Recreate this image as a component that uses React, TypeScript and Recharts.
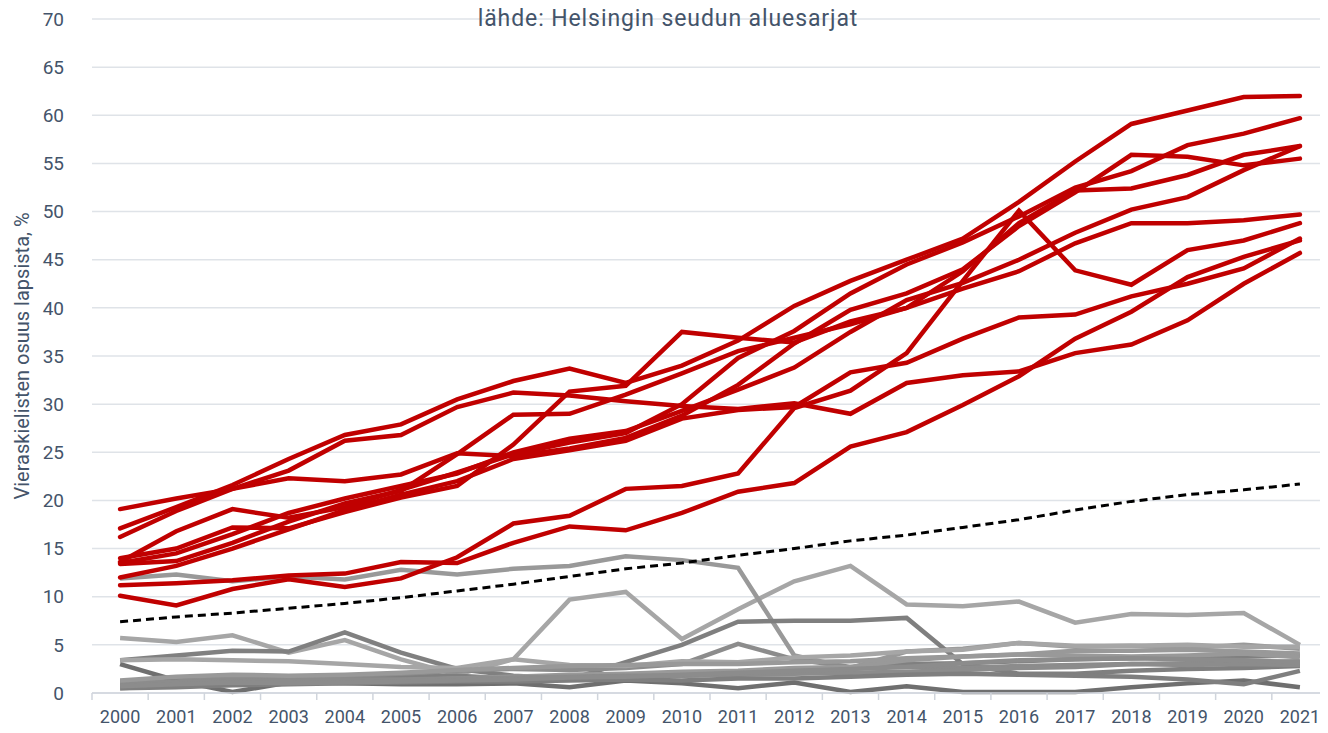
import { CartesianGrid, Line, LineChart, XAxis, YAxis } from "recharts";

const YEARS = [
  "2000", "2001", "2002", "2003", "2004", "2005", "2006", "2007", "2008", "2009", "2010",
  "2011", "2012", "2013", "2014", "2015", "2016", "2017", "2018", "2019", "2020", "2021",
];

const Y_TICKS = [0, 5, 10, 15, 20, 25, 30, 35, 40, 45, 50, 55, 60, 65, 70];

// red lines (higher share areas)
const redA = [19.1, 20.2, 21.2, 22.3, 22.0, 22.7, 24.9, 24.6, 25.4, 26.5, 28.8, 32.0, 36.3, 39.8, 41.5, 44.0, 48.5, 52.0, 55.9, 55.7, 54.8, 55.5];
const redB = [17.1, 19.3, 21.6, 24.3, 26.8, 27.9, 30.5, 32.4, 33.7, 32.2, 34.0, 36.6, 40.2, 42.8, 45.0, 47.2, 51.0, 55.2, 59.1, 60.5, 61.9, 62.0];
const redC = [16.2, 18.9, 21.2, 23.1, 26.2, 26.8, 29.7, 31.2, 30.9, 30.3, 29.8, 29.5, 30.1, 29.0, 32.2, 33.0, 33.4, 35.3, 36.2, 38.7, 42.5, 45.7];
const redD = [14.0, 15.0, 17.2, 17.1, 18.8, 20.3, 21.5, 25.8, 31.3, 31.9, 37.5, 36.9, 36.4, 38.6, 40.0, 43.8, 48.8, 52.2, 52.4, 53.8, 55.9, 56.8];
const redE = [13.6, 16.8, 19.1, 18.2, 19.3, 21.1, 22.9, 24.8, 26.0, 27.0, 30.0, 34.8, 37.6, 41.5, 44.5, 46.8, 49.5, 52.5, 54.2, 56.9, 58.1, 59.7];
const redF = [13.5, 14.5, 16.5, 18.7, 20.2, 21.5, 22.8, 25.0, 26.4, 27.2, 29.3, 31.5, 33.8, 37.5, 40.8, 42.6, 45.0, 47.8, 50.2, 51.5, 54.3, 56.8];
const redG = [13.4, 13.7, 15.6, 17.8, 19.7, 21.0, 24.8, 28.9, 29.0, 31.0, 33.2, 35.5, 36.9, 38.3, 40.0, 42.0, 43.8, 46.7, 48.8, 48.8, 49.1, 49.7];
const redH = [12.0, 13.2, 15.0, 17.0, 19.0, 20.6, 22.0, 24.3, 25.2, 26.2, 28.5, 29.4, 29.7, 33.3, 34.3, 36.8, 39.0, 39.3, 41.2, 42.5, 44.1, 47.2];
const redI = [11.2, 11.4, 11.7, 12.2, 12.4, 13.6, 13.5, 15.6, 17.3, 16.9, 18.7, 20.9, 21.8, 25.6, 27.1, 29.9, 32.9, 36.8, 39.6, 43.2, 45.3, 47.0];
const redJ = [10.1, 9.1, 10.8, 11.8, 11.0, 11.9, 14.1, 17.6, 18.4, 21.2, 21.5, 22.8, 29.6, 31.4, 35.3, 42.8, 50.1, 43.9, 42.4, 46.0, 47.0, 48.8];

// gray lines (lower share areas)
const gray1 = [5.7, 5.3, 6.0, 4.2, 5.5, 3.5, 1.9, 3.5, 9.7, 10.5, 5.6, 8.7, 11.6, 13.2, 9.2, 9.0, 9.5, 7.3, 8.2, 8.1, 8.3, 5.0];
const gray2 = [11.9, 12.3, 11.6, 12.1, 11.8, 12.8, 12.3, 12.9, 13.2, 14.2, 13.8, 13.0, 3.9, 2.6, 4.3, 4.6, 5.2, 4.8, 4.9, 4.7, 5.0, 4.6];
const gray3 = [3.4, 3.9, 4.4, 4.3, 6.3, 4.2, 2.5, 1.8, 1.5, 1.7, 1.8, 2.0, 2.3, 2.6, 3.0, 3.1, 3.3, 3.5, 3.6, 3.7, 3.8, 3.9];
const gray4 = [1.2, 1.5, 1.6, 1.5, 1.6, 1.7, 1.8, 1.5, 1.4, 3.2, 5.0, 7.4, 7.5, 7.5, 7.8, 3.0, 2.0, 2.0, 2.3, 2.5, 2.6, 2.8];
const gray5 = [3.0, 1.3, 0.1, 1.1, 1.0, 0.9, 0.9, 1.0, 0.6, 1.3, 1.0, 0.5, 1.1, 0.1, 0.7, 0.1, 0.1, 0.1, 0.6, 1.0, 1.3, 0.6];
const gray6 = [0.9, 1.2, 1.5, 1.6, 1.8, 2.0, 2.3, 2.5, 2.4, 2.6, 3.0, 5.1, 3.5, 2.7, 2.7, 2.6, 2.8, 2.9, 3.0, 3.1, 3.2, 3.3];
const gray7 = [3.4, 3.5, 3.4, 3.3, 3.0, 2.7, 2.6, 3.5, 2.9, 2.8, 3.3, 3.2, 3.7, 3.9, 4.3, 4.5, 5.2, 4.9, 4.9, 5.0, 4.8, 4.8];
const gray8 = [0.5, 0.8, 1.0, 1.1, 1.2, 1.3, 1.5, 1.7, 1.9, 2.0, 2.2, 2.3, 2.6, 2.7, 3.4, 3.8, 4.0, 4.4, 4.4, 4.5, 4.3, 4.1];
const gray9 = [1.0, 1.1, 1.2, 1.3, 1.4, 1.4, 1.5, 1.6, 1.7, 1.8, 1.8, 1.9, 2.0, 2.1, 2.2, 2.4, 2.6, 2.7, 3.0, 2.9, 3.0, 2.9];
const gray10 = [0.5, 0.6, 0.8, 0.9, 1.0, 1.1, 1.2, 1.2, 1.3, 1.4, 1.3, 1.5, 1.5, 1.7, 1.9, 2.0, 1.9, 1.8, 1.7, 1.4, 0.9, 2.3];
const gray11 = [1.3, 1.7, 1.9, 1.8, 1.9, 2.1, 2.4, 2.6, 2.8, 2.9, 3.0, 3.0, 3.2, 3.3, 3.6, 3.8, 4.0, 3.9, 3.8, 3.9, 4.1, 3.7];
const gray12 = [0.7, 0.9, 1.1, 1.0, 1.1, 1.2, 1.3, 1.4, 1.6, 1.7, 1.9, 2.1, 2.3, 2.5, 2.7, 3.1, 3.4, 3.5, 3.6, 3.5, 3.4, 3.2];

// whole region average (dashed)
const average = [7.4, 7.9, 8.3, 8.8, 9.3, 9.9, 10.6, 11.3, 12.1, 12.9, 13.5, 14.3, 15.0, 15.8, 16.4, 17.2, 18.0, 19.0, 19.9, 20.6, 21.1, 21.7];

const RED_SERIES = [redA, redB, redC, redD, redE, redF, redG, redH, redI, redJ];
const GRAY_SERIES = [
  { values: gray1, color: "#a6a6a6" },
  { values: gray2, color: "#999999" },
  { values: gray3, color: "#808080" },
  { values: gray4, color: "#7f7f7f" },
  { values: gray5, color: "#6f6f6f" },
  { values: gray6, color: "#8c8c8c" },
  { values: gray7, color: "#a6a6a6" },
  { values: gray8, color: "#999999" },
  { values: gray9, color: "#8c8c8c" },
  { values: gray10, color: "#7f7f7f" },
  { values: gray11, color: "#999999" },
  { values: gray12, color: "#8c8c8c" },
];

const chartData = YEARS.map((year, i) => {
  const row: Record<string, any> = { year, avg: average[i] };
  RED_SERIES.forEach((s, k) => (row[`r${k}`] = s[i]));
  GRAY_SERIES.forEach((s, k) => (row[`g${k}`] = s.values[i]));
  return row;
});

const WIDTH = 1320;
const HEIGHT = 722;
const Y_AXIS_WIDTH = 84;
const HALF_BAND = (WIDTH - Y_AXIS_WIDTH) / YEARS.length / 2;
const TEXT = "#44546A";
const FONT = "Roboto, 'Liberation Sans', sans-serif";

function YearTick(props: any) {
  const { x, y, payload, index } = props;
  return (
    <g>
      <line x1={x - HALF_BAND} x2={x - HALF_BAND} y1={y - 8} y2={y - 1} stroke="#d0d5dc" strokeWidth={1.5} />
      {index === YEARS.length - 1 && (
        <line x1={x + HALF_BAND} x2={x + HALF_BAND} y1={y - 8} y2={y - 1} stroke="#d0d5dc" strokeWidth={1.5} />
      )}
      <text x={x} y={y + 22} textAnchor="middle" fill={TEXT} fontSize={18} fontFamily={FONT}>
        {payload.value}
      </text>
    </g>
  );
}

export default function App() {
  return (
    <div style={{ position: "relative", width: WIDTH, height: HEIGHT, fontFamily: FONT }}>
      <LineChart width={WIDTH} height={HEIGHT} data={chartData} margin={{ top: 11, right: 0, left: 0, bottom: 0 }}>
        <CartesianGrid vertical={false} stroke="#dfe3e8" strokeWidth={1.5} />
        <XAxis
          dataKey="year"
          padding={{ left: HALF_BAND, right: HALF_BAND }}
          stroke="#d0d5dc"
          strokeWidth={1.5}
          tickLine={false}
          tick={<YearTick />}
          interval={0}
          height={37}
        />
        <YAxis
          domain={[0, 70]}
          ticks={Y_TICKS}
          width={Y_AXIS_WIDTH}
          axisLine={false}
          tickLine={false}
          tickSize={0}
          tickMargin={28}
          tick={{ fill: TEXT, fontSize: 19, fontFamily: FONT }}
          label={{
            value: "Vieraskielisten osuus lapsista, %",
            angle: -90,
            position: "insideLeft",
            offset: 14,
            style: { fill: TEXT, fontSize: 20, fontFamily: FONT, textAnchor: "middle" },
          }}
        />
        {GRAY_SERIES.map((s, k) => (
          <Line
            key={`g${k}`}
            dataKey={`g${k}`}
            stroke={s.color}
            strokeWidth={4.5}
            dot={false}
            isAnimationActive={false}
          />
        ))}
        <Line
          dataKey="avg"
          stroke="#000000"
          strokeWidth={3}
          strokeDasharray="8 5"
          dot={false}
          isAnimationActive={false}
        />
        {RED_SERIES.map((_, k) => (
          <Line
            key={`r${k}`}
            dataKey={`r${k}`}
            stroke="#c00000"
            strokeWidth={4.5}
            strokeLinecap="round"
            dot={false}
            isAnimationActive={false}
          />
        ))}
      </LineChart>
      <div
        style={{
          position: "absolute",
          top: -3,
          left: 0,
          width: WIDTH,
          textAlign: "center",
          color: TEXT,
          fontSize: 23,
          letterSpacing: 0.9,
          pointerEvents: "none",
        }}
      >
        lähde: Helsingin seudun aluesarjat
      </div>
    </div>
  );
}
